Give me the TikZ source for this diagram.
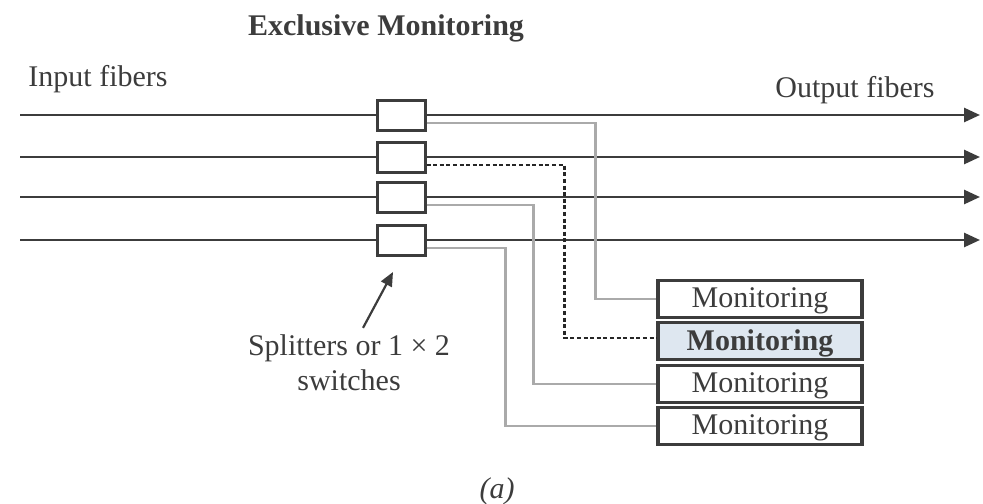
\documentclass[tikz,border=0pt]{standalone}
\usepackage{fontspec}
\setmainfont{Liberation Serif}
\usetikzlibrary{arrows.meta,calc}

\definecolor{inkgray}{RGB}{60,60,60}
\definecolor{tapgray}{RGB}{170,170,170}
\definecolor{hotfill}{RGB}{222,231,240}

\begin{document}
\begin{tikzpicture}[x=0.5pt,y=-0.5pt,>=Latex,
  every node/.style={font=\fontsize{15}{17.5}\selectfont,text=inkgray},
  fiber/.style={draw=inkgray,line width=1.35pt,-{Triangle[length=8pt,width=7pt]}},
  splitter/.style={draw=inkgray,line width=1.5pt,minimum width=24pt,minimum height=15pt,inner sep=0pt},
  monbox/.style={draw=inkgray,line width=1.6pt,minimum width=102pt,minimum height=18.5pt,inner sep=0pt,text depth=1pt},
  tap/.style={draw=tapgray,line width=1.3pt},
  hot/.style={draw=black!85,line width=1.4pt,dash pattern=on 2pt off 1.3pt},
  pointer/.style={draw=inkgray,line width=1.1pt,-{Triangle[length=7pt,width=6pt]}}]
  \useasboundingbox (0,0) rectangle (983,503);

  \node[font=\fontsize{15}{17.5}\selectfont\bfseries] (title) at (386,28) {Exclusive Monitoring};
  \node (inlbl) at (98,79) {Input fibers};
  \node (outlbl) at (855,90) {Output fibers};

  % fibers through the splitters
  \foreach \i/\y in {1/115,2/157,3/197,4/240}{
    \coordinate (in\i) at (20,\y);
    \coordinate (out\i) at (980,\y);
    \node[splitter] (s\i) at (401,\y) {};
    \draw[fiber] (in\i) -- (s\i) -- (out\i);
  }

  % monitors
  \foreach \i/\y in {1/299,3/384,4/426}{
    \node[monbox] (m\i) at (760,\y) {Monitoring};
  }
  \node[monbox,fill=hotfill,font=\fontsize{15}{17.5}\selectfont\bfseries] (m2) at (760,341) {Monitoring};

  % taps to the monitors
  \foreach \i/\d in {1/61,3/123,4/151}{
    \draw[tap] ($(s\i.east)+(0,8)$) -| ($(m\i.west)+(-\d,0)$) -- (m\i.west);
  }
  \draw[hot] ($(s2.east)+(0,8)$) -| ($(m2.west)+(-92,-3)$) -- ($(m2.west)+(0,-3)$);

  \node[align=center] (note) at (349,363) {Splitters or 1 × 2\\switches};
  \coordinate (tip) at (393,272);
  \draw[pointer] ($(note.north)+(14,0)$) -- (tip);

  \node[font=\fontsize{15}{17.5}\selectfont\itshape] (cap) at (497,491) {(a)};
\end{tikzpicture}
\end{document}
